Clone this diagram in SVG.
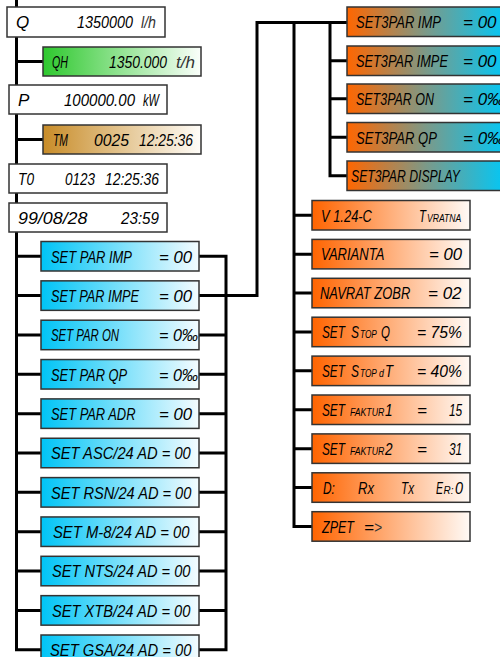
<svg xmlns="http://www.w3.org/2000/svg" width="500" height="657" viewBox="0 0 500 657">
<style>
.t{font-family:"Liberation Sans",Arial,sans-serif;font-style:italic;font-size:17px;fill:#000}
.s{font-size:11px}
.u{fill:#333}
.b{stroke:#333;stroke-width:1.5}
.c{fill:none;stroke:#000;stroke-width:3}
</style>
<defs>
<linearGradient id="gB"><stop offset="0" stop-color="#00c4f6"/><stop offset="1" stop-color="#f4fcff"/></linearGradient>
<linearGradient id="gO"><stop offset="0" stop-color="#ff6400"/><stop offset="1" stop-color="#fffaf6"/></linearGradient>
<linearGradient id="gG"><stop offset="0" stop-color="#2ec82e"/><stop offset="1" stop-color="#fbfffb"/></linearGradient>
<linearGradient id="gY"><stop offset="0" stop-color="#c88c28"/><stop offset="1" stop-color="#fffdf9"/></linearGradient>
<linearGradient id="gM"><stop offset="0" stop-color="#ff6600"/><stop offset="0.5" stop-color="#7a9a8a"/><stop offset="1" stop-color="#00c8f8"/></linearGradient>
</defs>

<g id="connectors" class="c">
<path d="M16.5 0V649.75H41"/>
<path d="M16.5 61.5H43M16.5 139.5H43"/>
<path d="M16.5 256.25H41M16.5 295.6H41M16.5 334.95H41M16.5 374.3H41M16.5 413.65H41M16.5 453H41M16.5 492.35H41M16.5 531.7H41M16.5 571.05H41M16.5 610.4H41"/>
<path d="M199 256.25H226V649.75H199"/>
<path d="M199 334.95H226M199 374.3H226M199 413.65H226M199 453H226M199 492.35H226M199 531.7H226M199 571.05H226M199 610.4H226"/>
<path d="M199 295.6H257V22.5H347"/>
<path d="M294 22.5V526.45H312"/>
<path d="M294 215.25H312M294 254.15H312M294 293.05H312M294 331.95H312M294 370.85H312M294 409.75H312M294 448.65H312M294 487.55H312"/>
<path d="M330 22.5V175.75H347M330 60.75H347M330 98.75H347M330 137.25H347"/>
</g>

<g id="n-q"><rect class="b" x="7" y="7" width="158" height="30" fill="#fff"/>
<text class="t" x="16" y="28">Q</text>
<text class="t" transform="translate(77 28) scale(.846 1)">1350000</text>
<text class="t u" transform="translate(141 28) scale(.836 1)">l/h</text></g>
<g id="n-qh"><rect class="b" x="43" y="47" width="158" height="29" fill="url(#gG)"/>
<text class="t" transform="translate(52 68) scale(.627 1)">QH</text>
<text class="t" transform="translate(109 68) scale(.818 1)">1350.000</text>
<text class="t u" x="176" y="68">t/h</text></g>
<g id="n-p"><rect class="b" x="9" y="85" width="158" height="29" fill="#fff"/>
<text class="t" x="18" y="106">P</text>
<text class="t" transform="translate(64 106) scale(.884 1)">100000.00</text>
<text class="t" transform="translate(143 106) scale(.653 1)">kW</text></g>
<g id="n-tm"><rect class="b" x="43" y="125" width="158" height="29" fill="url(#gY)"/>
<text class="t" transform="translate(53 146) scale(.612 1)">TM</text>
<text class="t" transform="translate(94 146) scale(.926 1)">0025</text>
<text class="t" transform="translate(139 146) scale(.816 1)">12:25:36</text></g>
<g id="n-t0"><rect class="b" x="9" y="164" width="158" height="29" fill="#fff"/>
<text class="t" transform="translate(18 185) scale(.807 1)">T0</text>
<text class="t" transform="translate(65 185) scale(.794 1)">0123</text>
<text class="t" transform="translate(105 185) scale(.816 1)">12:25:36</text></g>
<g id="n-date"><rect class="b" x="9" y="203" width="158" height="29" fill="#fff"/>
<text class="t" transform="translate(18 224) scale(1.05 1)">99/08/28</text>
<text class="t" transform="translate(121 224) scale(.894 1)">23:59</text></g>

<g id="n-par-imp"><rect class="b" x="41" y="241.5" width="158" height="29.5" fill="url(#gB)"/>
<text class="t" transform="translate(51 262.5) scale(.761 1)">SET PAR IMP</text>
<text class="t" transform="translate(159 262.5) scale(.983 1)">= 00</text></g>
<g id="n-par-impe"><rect class="b" x="41" y="280.85" width="158" height="29.5" fill="url(#gB)"/>
<text class="t" transform="translate(51 301.85) scale(.748 1)">SET PAR IMPE</text>
<text class="t" transform="translate(159 301.85) scale(.983 1)">= 00</text></g>
<g id="n-par-on"><rect class="b" x="41" y="320.2" width="158" height="29.5" fill="url(#gB)"/>
<text class="t" transform="translate(51 341.2) scale(.67 1)">SET PAR ON</text>
<text class="t" transform="translate(159 341.2) scale(.949 1)">= 0‰</text></g>
<g id="n-par-qp"><rect class="b" x="41" y="359.55" width="158" height="29.5" fill="url(#gB)"/>
<text class="t" transform="translate(51 380.55) scale(.755 1)">SET PAR QP</text>
<text class="t" transform="translate(159 380.55) scale(.949 1)">= 0‰</text></g>
<g id="n-par-adr"><rect class="b" x="41" y="398.9" width="158" height="29.5" fill="url(#gB)"/>
<text class="t" transform="translate(51 419.9) scale(.758 1)">SET PAR ADR</text>
<text class="t" transform="translate(159 419.9) scale(.983 1)">= 00</text></g>
<g id="n-asc"><rect class="b" x="41" y="438.25" width="158" height="29.5" fill="url(#gB)"/>
<text class="t" transform="translate(51 459.25) scale(.865 1)">SET ASC/24 AD = 00</text></g>
<g id="n-rsn"><rect class="b" x="41" y="477.6" width="158" height="29.5" fill="url(#gB)"/>
<text class="t" transform="translate(51 498.6) scale(.86 1)">SET RSN/24 AD = 00</text></g>
<g id="n-m8"><rect class="b" x="41" y="516.95" width="158" height="29.5" fill="url(#gB)"/>
<text class="t" transform="translate(53 537.95) scale(.871 1)">SET M-8/24 AD = 00</text></g>
<g id="n-nts"><rect class="b" x="41" y="556.3" width="158" height="29.5" fill="url(#gB)"/>
<text class="t" transform="translate(52 577.3) scale(.858 1)">SET NTS/24 AD = 00</text></g>
<g id="n-xtb"><rect class="b" x="41" y="595.65" width="158" height="29.5" fill="url(#gB)"/>
<text class="t" transform="translate(52 616.65) scale(.863 1)">SET XTB/24 AD = 00</text></g>
<g id="n-gsa"><rect class="b" x="41" y="635" width="158" height="29.5" fill="url(#gB)"/>
<text class="t" transform="translate(50 656) scale(.866 1)">SET GSA/24 AD = 00</text></g>

<g id="n-3imp"><rect class="b" x="347" y="7" width="160" height="29.5" fill="url(#gM)"/>
<text class="t" transform="translate(356 28) scale(.765 1)">SET3PAR IMP</text>
<text class="t" x="463" y="28">= 00</text></g>
<g id="n-3impe"><rect class="b" x="347" y="46" width="160" height="29.5" fill="url(#gM)"/>
<text class="t" transform="translate(356 67) scale(.751 1)">SET3PAR IMPE</text>
<text class="t" x="463" y="67">= 00</text></g>
<g id="n-3on"><rect class="b" x="347" y="84" width="160" height="29.5" fill="url(#gM)"/>
<text class="t" transform="translate(356 105) scale(.733 1)">SET3PAR ON</text>
<text class="t" x="463" y="105">= 0‰</text></g>
<g id="n-3qp"><rect class="b" x="347" y="122.5" width="160" height="29.5" fill="url(#gM)"/>
<text class="t" transform="translate(356 143.5) scale(.768 1)">SET3PAR QP</text>
<text class="t" x="463" y="143.5">= 0‰</text></g>
<g id="n-3disp"><rect class="b" x="347" y="161" width="160" height="29.5" fill="url(#gM)"/>
<text class="t" transform="translate(351 182) scale(.72 1)">SET3PAR DISPLAY</text></g>

<g id="n-ver"><rect class="b" x="312" y="200.5" width="158" height="29.5" fill="url(#gO)"/>
<text class="t" transform="translate(321 221.5) scale(.76 1)">V 1.24-C</text>
<text class="t" transform="translate(419 221.5) scale(.673 1)">T</text>
<text class="t s" transform="translate(427 221.5) scale(.785 1)">VRATNA</text></g>
<g id="n-var"><rect class="b" x="312" y="239.4" width="158" height="29.5" fill="url(#gO)"/>
<text class="t" transform="translate(321 260.4) scale(.765 1)">VARIANTA</text>
<text class="t" transform="translate(429 260.4) scale(.983 1)">= 00</text></g>
<g id="n-nav"><rect class="b" x="312" y="278.3" width="158" height="29.5" fill="url(#gO)"/>
<text class="t" transform="translate(320 299.3) scale(.761 1)">NAVRAT ZOBR</text>
<text class="t" x="428" y="299.3">= 02</text></g>
<g id="n-stopq"><rect class="b" x="312" y="317.2" width="158" height="29.5" fill="url(#gO)"/>
<text class="t" transform="translate(322 338.2) scale(.695 1)">SET</text>
<text class="t" transform="translate(351 338.2) scale(.706 1)">S</text>
<text class="t s" transform="translate(360 338.2) scale(.752 1)">TOP</text>
<text class="t" transform="translate(381 338.2) scale(.68 1)">Q</text>
<text class="t" transform="translate(417 338.2) scale(.924 1)">= 75%</text></g>
<g id="n-stopdt"><rect class="b" x="312" y="356.1" width="158" height="29.5" fill="url(#gO)"/>
<text class="t" transform="translate(322 377.1) scale(.695 1)">SET</text>
<text class="t" transform="translate(351 377.1) scale(.706 1)">S</text>
<text class="t s" transform="translate(360 377.1) scale(.752 1)">TOP</text>
<text class="t s" transform="translate(379 377.1) scale(.8 1)">d</text>
<text class="t" transform="translate(385 377.1) scale(.77 1)">T</text>
<text class="t" transform="translate(417 377.1) scale(.924 1)">= 40%</text></g>
<g id="n-f1"><rect class="b" x="312" y="395" width="158" height="29.5" fill="url(#gO)"/>
<text class="t" transform="translate(322 416) scale(.695 1)">SET</text>
<text class="t s" transform="translate(350 416) scale(.795 1)">FAKTUR</text>
<text class="t" transform="translate(385 416) scale(.8 1)">1</text>
<text class="t" x="417" y="416">=</text>
<text class="t" transform="translate(449 416) scale(.7 1)">15</text></g>
<g id="n-f2"><rect class="b" x="312" y="433.9" width="158" height="29.5" fill="url(#gO)"/>
<text class="t" transform="translate(322 454.9) scale(.695 1)">SET</text>
<text class="t s" transform="translate(350 454.9) scale(.795 1)">FAKTUR</text>
<text class="t" transform="translate(385 454.9) scale(.8 1)">2</text>
<text class="t" x="417" y="454.9">=</text>
<text class="t" transform="translate(449 454.9) scale(.7 1)">31</text></g>
<g id="n-d"><rect class="b" x="312" y="472.8" width="158" height="29.5" fill="url(#gO)"/>
<text class="t" transform="translate(323 493.8) scale(.7 1)">D:</text>
<text class="t" transform="translate(358 493.8) scale(.77 1)">Rx</text>
<text class="t" transform="translate(401 493.8) scale(.69 1)">Tx</text>
<text class="t" transform="translate(436 493.8) scale(.62 1)">E</text>
<text class="t s" transform="translate(443.5 493.8) scale(.9 1)">R:</text>
<text class="t" transform="translate(455 493.8) scale(.85 1)">0</text></g>
<g id="n-zpet"><rect class="b" x="312" y="511.7" width="158" height="29.5" fill="url(#gO)"/>
<text class="t" transform="translate(322 532.7) scale(.736 1)">ZPET</text>
<text class="t" x="364" y="532.7">=</text>
<text class="t u" transform="translate(374 532.7) scale(.81 1)">&gt;</text></g>
</svg>
